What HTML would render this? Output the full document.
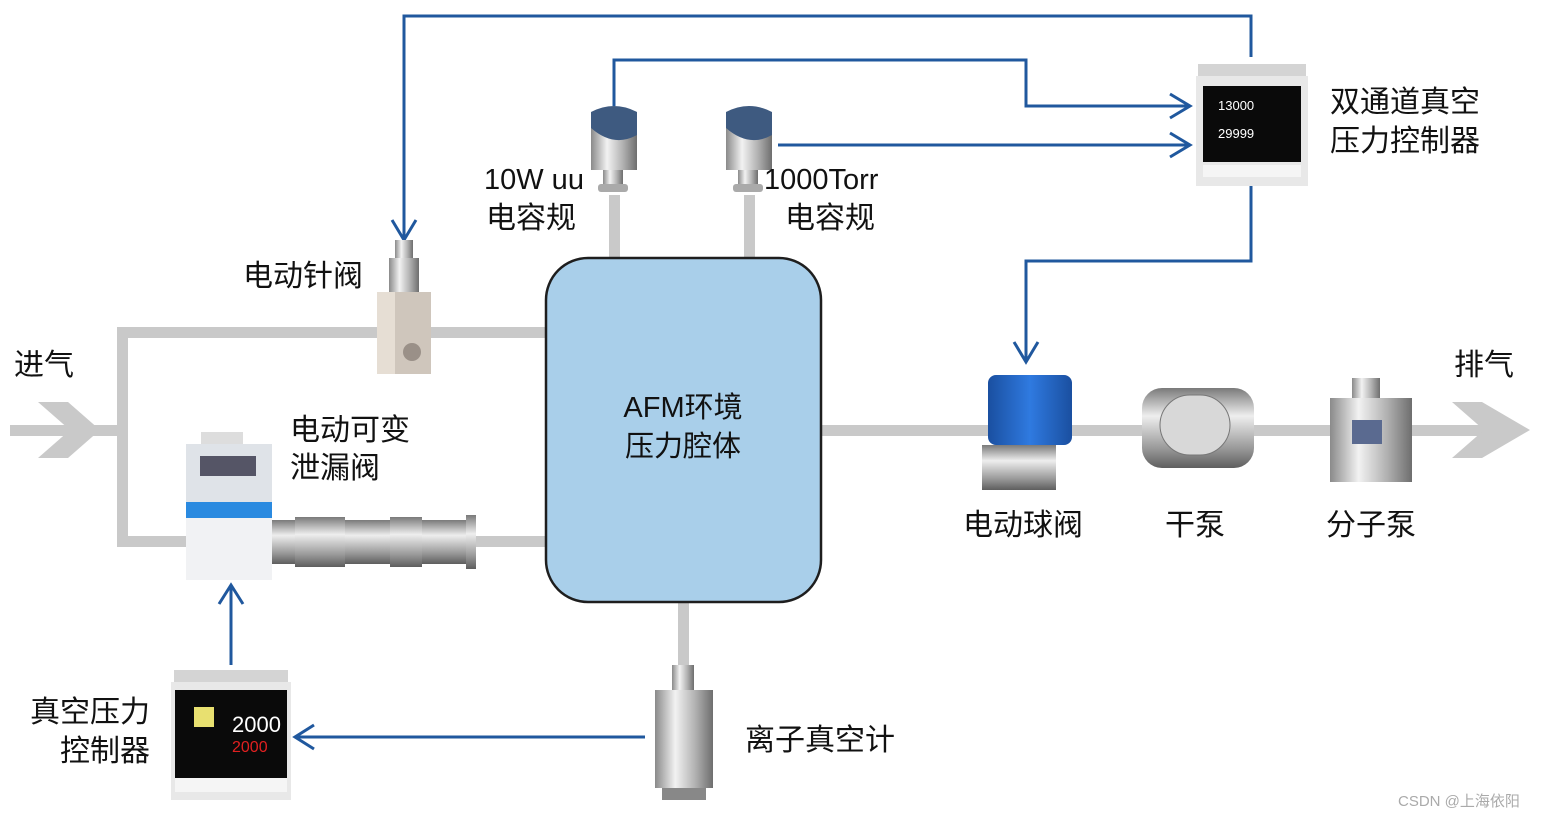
<!DOCTYPE html>
<html><head><meta charset="utf-8"><style>
html,body{margin:0;padding:0;background:#fff}
svg{display:block}
text{font-family:"Liberation Sans","Noto Sans CJK SC",sans-serif;fill:#111}
.c{font-size:30px}
</style></head><body>
<svg width="1549" height="818" viewBox="0 0 1549 818" xmlns="http://www.w3.org/2000/svg">
<defs>
<linearGradient id="steel" x1="0" x2="1" y1="0" y2="0"><stop offset="0" stop-color="#8a8a8a"/><stop offset=".35" stop-color="#f2f2f2"/><stop offset=".7" stop-color="#b0b0b0"/><stop offset="1" stop-color="#6e6e6e"/></linearGradient>
<linearGradient id="steelv" x1="0" x2="0" y1="0" y2="1"><stop offset="0" stop-color="#7a7a7a"/><stop offset=".35" stop-color="#eeeeee"/><stop offset=".75" stop-color="#9a9a9a"/><stop offset="1" stop-color="#5e5e5e"/></linearGradient>
<linearGradient id="blueb" x1="0" x2="1"><stop offset="0" stop-color="#1a4fa0"/><stop offset=".5" stop-color="#2f7ae0"/><stop offset="1" stop-color="#1a4fa0"/></linearGradient>
</defs>
<g fill="#c9c9c9" stroke="none">
<rect x="10" y="425" width="110" height="11"/>
<rect x="117" y="327" width="11" height="220"/>
<rect x="117" y="327" width="430" height="11"/>
<rect x="117" y="536" width="430" height="11"/>
<rect x="820" y="425" width="680" height="11"/>
<rect x="609" y="195" width="11" height="64"/>
<rect x="744" y="195" width="11" height="64"/>
<rect x="678" y="602" width="11" height="64"/>
<polygon points="38,402 68,402 100,430 68,458 38,458 70,430"/>
<polygon points="1452,402 1482,402 1530,430 1482,458 1452,458 1484,430"/>
</g>
<rect x="546" y="258" width="275" height="344" rx="42" fill="#a9cfea" stroke="#1e1e1e" stroke-width="2.5"/>
<text x="683" y="417" font-size="29" text-anchor="middle">AFM环境</text>
<text x="683" y="456" font-size="29" text-anchor="middle">压力腔体</text>
<g fill="none" stroke="#20589e" stroke-width="3">
<polyline points="404,240 404,16 1251,16 1251,57"/>
<polyline points="614,106 614,60 1026,60 1026,106 1190,106"/>
<polyline points="778,145 1190,145"/>
<polyline points="1251,186 1251,261 1026,261 1026,362"/>
<polyline points="645,737 295,737"/>
<polyline points="231,665 231,585"/>
<polyline points="392,220 404,240 416,220"/>
<polyline points="1170,94 1190,106 1170,118"/>
<polyline points="1170,133 1190,145 1170,157"/>
<polyline points="1014,342 1026,362 1038,342"/>
<polyline points="314,725 295,737 314,749"/>
<polyline points="219,604 231,585 243,604"/>
</g>
<g>
<rect x="591" y="118" width="46" height="52" fill="url(#steel)"/>
<path d="M591,112 Q614,100 637,112 L637,135 Q614,148 591,128Z" fill="#3e5a80"/>
<rect x="603" y="170" width="20" height="16" fill="url(#steel)"/>
<rect x="598" y="184" width="30" height="8" rx="3" fill="#aaa"/>
<rect x="726" y="118" width="46" height="52" fill="url(#steel)"/>
<path d="M726,112 Q749,100 772,112 L772,135 Q749,148 726,128Z" fill="#3e5a80"/>
<rect x="738" y="170" width="20" height="16" fill="url(#steel)"/>
<rect x="733" y="184" width="30" height="8" rx="3" fill="#aaa"/>
</g>
<text x="484" y="189" font-size="29">10W uu</text>
<text x="486" y="228" class="c">电容规</text>
<text x="764" y="189" font-size="29">1000Torr</text>
<text x="785" y="228" class="c">电容规</text>
<rect x="1198" y="64" width="108" height="12" fill="#d4d4d4"/>
<rect x="1196" y="76" width="112" height="110" fill="#e8e8e8"/>
<rect x="1203" y="86" width="98" height="76" fill="#0a0a0a"/>
<text x="1218" y="110" font-size="13" style="fill:#fff">13000</text>
<text x="1218" y="138" font-size="13" style="fill:#fff">29999</text>
<rect x="1203" y="165" width="98" height="12" fill="#f5f5f5"/>
<text x="1330" y="112" class="c">双通道真空</text>
<text x="1330" y="151" class="c">压力控制器</text>
<rect x="395" y="240" width="18" height="22" fill="url(#steel)"/>
<rect x="389" y="258" width="30" height="36" fill="url(#steel)"/>
<rect x="377" y="292" width="54" height="82" fill="#cfc6bc"/>
<rect x="377" y="292" width="18" height="82" fill="#e6ded4"/>
<circle cx="412" cy="352" r="9" fill="#9a9088"/>
<text x="243" y="286" class="c">电动针阀</text>
<rect x="201" y="432" width="42" height="14" fill="#ddd"/>
<rect x="186" y="444" width="86" height="58" fill="#dfe3e8"/>
<rect x="200" y="456" width="56" height="20" fill="#556"/>
<rect x="186" y="502" width="86" height="16" fill="#2a8ae0"/>
<rect x="186" y="518" width="86" height="62" fill="#f1f2f4"/>
<rect x="272" y="520" width="200" height="44" fill="url(#steelv)"/>
<rect x="295" y="517" width="50" height="50" fill="url(#steelv)"/>
<rect x="390" y="517" width="32" height="50" fill="url(#steelv)"/>
<rect x="466" y="515" width="10" height="54" fill="url(#steelv)"/>
<text x="290" y="440" class="c">电动可变</text>
<text x="290" y="478" class="c">泄漏阀</text>
<rect x="174" y="670" width="114" height="12" fill="#d4d4d4"/>
<rect x="171" y="682" width="120" height="118" fill="#e8e8e8"/>
<rect x="175" y="690" width="112" height="88" fill="#0a0a0a"/>
<rect x="194" y="707" width="20" height="20" fill="#e8e070"/>
<text x="232" y="732" font-size="22" style="fill:#fff">2000</text>
<text x="232" y="752" font-size="16" style="fill:#e02020">2000</text>
<rect x="175" y="778" width="112" height="14" fill="#f5f5f5"/>
<text x="30" y="722" class="c">真空压力</text>
<text x="60" y="761" class="c">控制器</text>
<rect x="672" y="665" width="22" height="30" fill="url(#steel)"/>
<rect x="655" y="690" width="58" height="98" fill="url(#steel)"/>
<rect x="662" y="788" width="44" height="12" fill="#888"/>
<text x="745" y="750" class="c">离子真空计</text>
<rect x="988" y="375" width="84" height="70" rx="8" fill="url(#blueb)"/>
<rect x="982" y="445" width="74" height="45" fill="url(#steelv)"/>
<text x="963" y="535" class="c">电动球阀</text>
<rect x="1142" y="388" width="112" height="80" rx="20" fill="url(#steelv)"/>
<rect x="1160" y="395" width="70" height="60" rx="30" fill="#d8d8d8" stroke="#777"/>
<text x="1165" y="535" class="c">干泵</text>
<rect x="1352" y="378" width="28" height="24" fill="url(#steel)"/>
<rect x="1330" y="398" width="82" height="84" fill="url(#steel)"/>
<rect x="1352" y="420" width="30" height="24" fill="#5a6a90"/>
<text x="1326" y="535" class="c">分子泵</text>
<text x="14" y="375" class="c">进气</text>
<text x="1454" y="375" class="c">排气</text>
<text x="1398" y="806" font-size="15" style="fill:#aaa">CSDN @上海依阳</text>
</svg>
</body></html>
